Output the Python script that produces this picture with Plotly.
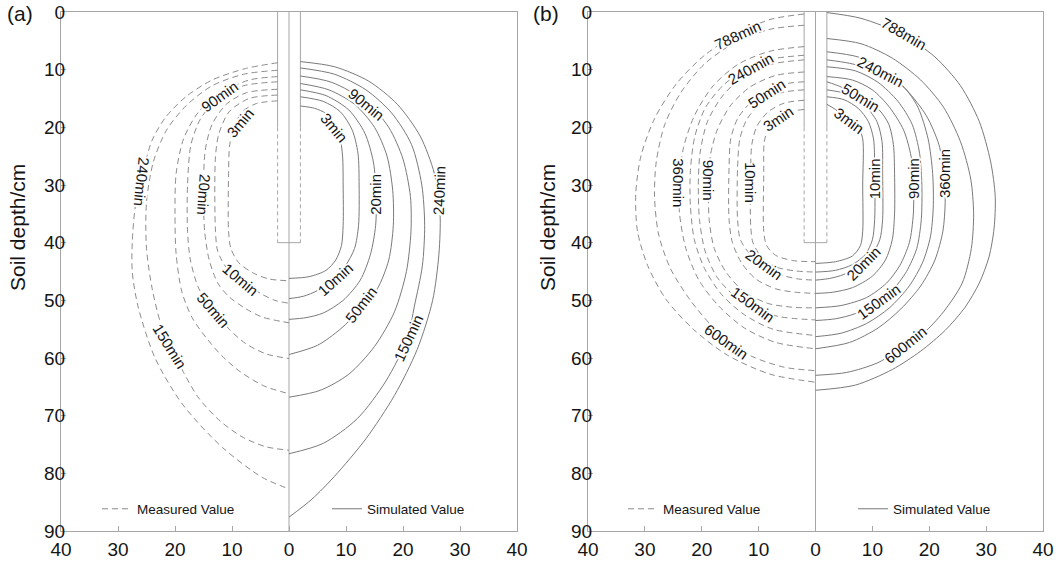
import plotly.graph_objects as go

# ---------------- DATA ----------------
# Each contour: list of (horizontal distance from probe axis [cm], soil depth [cm])
# Panel (a) - simulated (right half)
a_sim_3 = [(2,16.3),(4.5,16.7),(6.5,17.6),(7.9,19.2),(8.9,21.5),(9.4,25),(9.5,30),(9.5,37),(9.2,40.5),(8.2,43),(6.5,44.8),(3.5,45.9),(0,46.2)]
a_sim_10 = [(2,14.7),(6,15.5),(9,17.3),(11.1,20.5),(12.1,24.5),(12.3,30),(12.2,37),(11.5,41),(9.9,44),(7.8,46.3),(5,48.3),(2.5,49.3),(0,49.7)]
a_sim_20 = [(2,13.5),(6.5,14.5),(10.5,17),(13.3,21),(14.8,26),(15.3,31.5),(15.2,37),(14.3,42),(12.5,46.5),(9.5,50),(6,52.2),(3,53),(0,53.3)]
a_sim_50 = [(2,12.4),(7,13.5),(11.5,16),(15,20),(17.2,25),(18.2,31),(18.3,37),(17.5,43),(15.5,48),(12.6,51.5),(9,55),(5,57.8),(0,59.4)]
a_sim_90 = [(2,11.1),(7.5,12.2),(13.5,15.5),(17.5,20),(20,25.5),(21.3,32),(21.4,38),(20.6,45),(18.5,52),(15,58),(10.5,62.8),(5.5,65.6),(0,66.8)]
a_sim_150 = [(2,9.7),(8,10.8),(13.5,13.5),(18,17.5),(21.5,23),(23.3,30),(23.8,37),(23.4,44),(22,51),(20.8,56.5),(17,64),(12,70.5),(6,74.8),(0,76.6)]
a_sim_240 = [(2,8.6),(8,9.5),(14,12),(19,16),(23,21.5),(25.5,28),(26.5,35),(26.3,42),(25.2,50),(22.5,58.5),(18.5,66.5),(13.5,74),(8,80.5),(4,84.5),(0,87.6)]
# Panel (a) - measured (left half)
a_meas_3 = [(-2,15.4),(-5.8,15.9),(-8.2,17.3),(-9.6,19.8),(-10.4,23),(-10.6,28),(-10.6,38),(-10.2,41),(-8.8,43.5),(-6.4,45.2),(-3.5,46.3),(0,46.6)]
a_meas_10 = [(-2,14.4),(-7,15),(-10.5,17.3),(-12.3,21.1),(-12.9,25.1),(-12.9,38),(-12.5,41.5),(-11,44.3),(-8.5,46.4),(-5,48.8),(-2.5,50),(0,50.5)]
a_meas_20 = [(-2,13.4),(-7.5,14),(-11,16),(-13.5,19.5),(-14.7,24),(-15,31.5),(-14.8,38),(-14,43),(-12.5,47),(-10.5,49.4),(-7.5,51.5),(-4.7,52.9),(0,53.9)]
a_meas_50 = [(-2,12.1),(-8,12.8),(-12.5,15),(-15.5,18.5),(-17.2,23),(-17.8,30),(-17.8,38),(-17.3,43),(-15.8,48),(-13.2,51.7),(-10.5,55),(-7.6,57.5),(-4,59.3),(0,60.1)]
a_meas_90 = [(-2,11.2),(-7,11.8),(-12.3,14.2),(-16,17.5),(-18.5,22),(-19.8,28),(-20,35),(-19.8,42),(-18.8,48.5),(-17,53),(-14.6,56.4),(-11.8,59.6),(-8.8,62.2),(-4.5,64.8),(0,66.2)]
a_meas_150 = [(-2,10.1),(-8,10.8),(-13.5,12.8),(-18,16.2),(-21.5,20.5),(-23.8,26),(-25,33),(-25,41),(-24,48),(-22.5,54),(-20.8,57.8),(-18.5,62.5),(-15.8,67),(-12,71),(-8,73.8),(-4,75.4),(0,76)]
a_meas_240 = [(-2,8.8),(-7.6,9.8),(-13.5,11.8),(-18.1,14.7),(-21.6,18.2),(-24,22.2),(-25.7,28),(-27,34),(-27.5,40),(-27.5,45),(-26.5,51),(-23.5,60),(-18.7,68),(-11.7,75.5),(-4.7,80.7),(0,82.7)]

# Panel (b) - simulated (right half)
b_sim_3 = [(2,16.0),(3.5,16.9),(5.9,18.8),(7.6,20.2),(8.3,22),(8.3,30),(8.3,38),(7.9,40.5),(6.5,42.3),(3.5,43.3),(0,43.6)]
b_sim_10 = [(2,14.7),(5,15.2),(7.5,16.7),(9.3,19),(10.2,22),(10.4,26),(10.4,36),(10,39.5),(8.8,42),(6.5,43.8),(3.5,44.8),(0,45.1)]
b_sim_20 = [(2,13.5),(5.5,14.2),(8.5,16),(10.8,19),(11.7,22.5),(11.8,28),(11.8,36),(11.3,39.5),(9.8,42.3),(8,43.8),(5,45.5),(2.5,46.2),(0,46.5)]
b_sim_50 = [(2,12.1),(4.5,13),(7.9,14.9),(11.2,17),(12.9,19.5),(13.7,23),(13.9,28),(13.9,35),(13.5,39.5),(12.3,43),(10,45.8),(6.5,47.8),(3,48.6),(0,48.8)]
b_sim_90 = [(2,11.2),(6.5,11.8),(10,13.5),(13,16.5),(15.5,20.5),(16.8,25),(17.2,29),(17.2,35),(16.5,40),(14.8,44),(12.5,47),(9,49.5),(4.5,50.9),(0,51.3)]
b_sim_150 = [(2,9.5),(7,10.2),(11,12.2),(14.5,15.5),(17,19.5),(18.3,24.5),(18.7,30),(18.6,36),(17.8,41),(16,45),(13.5,48.3),(11,50.3),(7,52.3),(3.5,53.2),(0,53.5)]
b_sim_240 = [(2,8.3),(6,8.9),(11.4,10.4),(15.5,13),(18,16.5),(19.8,22),(20.6,28),(20.7,34),(20.2,39),(18.8,43.5),(16.5,47.5),(13,51.3),(9,54),(4.5,55.7),(0,56.3)]
b_sim_360 = [(2,6.9),(7.5,7.8),(12,10),(16,13.5),(19.5,18),(21.7,23),(22.6,28),(22.8,33),(22.4,38),(21,43),(18.5,47.5),(15,51.5),(11,54.8),(6,57.3),(0,58.4)]
b_sim_600 = [(2,4.6),(8,5.5),(13.5,8),(18.5,11.8),(22.5,16.5),(25.5,22.5),(27.3,29),(27.8,35),(27.4,41),(25.8,47),(22.5,52),(19,55.7),(15.9,57.8),(11,60.8),(5.5,62.5),(0,63)]
b_sim_788 = [(2,0.1),(8,1.1),(15.3,3.9),(21,7.8),(25.5,12.8),(28.8,19),(30.8,26),(31.6,32),(31.4,37.5),(30.5,42.5),(28.8,47),(26.3,51.2),(22.8,55.2),(18.5,58.8),(13.5,62),(7,64.7),(0,65.6)]
# Panel (b) - measured (left half)
b_meas_3 = [(-2,16.9),(-4.5,17.3),(-6.7,18.5),(-8.3,20.3),(-9,22.5),(-9.1,28),(-9.1,38),(-8.6,40.5),(-7,42.2),(-4,43.1),(0,43.3)]
b_meas_10 = [(-2,15.3),(-5.5,15.8),(-8.3,17.3),(-10.3,19.8),(-11.2,23),(-11.4,28),(-11.4,37),(-11,40),(-9.5,42.5),(-7,44.2),(-3.5,44.9),(0,45.1)]
b_meas_20 = [(-2,13.5),(-6,14),(-9.5,15.8),(-12,18.5),(-13.3,22),(-13.7,27),(-13.7,36),(-13.2,39.5),(-11.5,42),(-9.1,44),(-6,45.6),(-3,46.3),(0,46.5)]
b_meas_50 = [(-2,12.1),(-5.5,12.5),(-8.5,13.8),(-11.5,15.8),(-13.7,18.5),(-14.9,22),(-15.2,27),(-15.2,36),(-14.6,40),(-13,43.5),(-10.5,46.3),(-7,48),(-3.5,48.6),(0,48.8)]
b_meas_90 = [(-2,10.4),(-7,11),(-11.5,13),(-15,16.3),(-17.3,20.5),(-18.5,25),(-18.8,30),(-18.7,36),(-17.8,41),(-15.8,45),(-12.8,48.3),(-8.5,50.5),(-4,51.2),(0,51.3)]
b_meas_150 = [(-2,8.3),(-7.5,9),(-12.5,11),(-16.3,14.5),(-19,19),(-20.3,24.5),(-20.6,30),(-20.4,36),(-19.4,41.5),(-17.3,46),(-14.3,49.2),(-10.8,51.3),(-6.5,52.8),(0,53.4)]
b_meas_240 = [(-2,7.5),(-8,8.2),(-11.4,9.5),(-16,12.5),(-19.3,16.5),(-21.2,21.5),(-22,27.5),(-22,33.5),(-21.3,39.5),(-19.5,44.5),(-16.5,49),(-12.5,52.5),(-7.5,55),(0,56.1)]
b_meas_360 = [(-2,6),(-8,6.8),(-13.5,9),(-18,12.8),(-21.3,18),(-23.2,23.5),(-24,29.5),(-23.9,35),(-22.8,41),(-20.5,46.5),(-17,51),(-12.5,54.8),(-7,57.3),(0,58.4)]
b_meas_600 = [(-2,2.3),(-8,3),(-14,5.2),(-19.5,9),(-23.7,14),(-26.5,19.5),(-28,26),(-28.3,32),(-27.6,38.5),(-25.5,44.5),(-22,50),(-18.5,54.2),(-15.8,57),(-11,59.8),(-5.5,61.6),(0,62.2)]
b_meas_788 = [(-2,0.35),(-8,1.3),(-13.8,3.8),(-19.5,7.5),(-24.5,12.5),(-28.3,18.5),(-30.7,25),(-31.6,31.5),(-31.3,38),(-29.5,44),(-26.3,49.8),(-21.5,55),(-15.5,59.5),(-8,62.8),(0,64.2)]

# Probe geometry (cm)
probe_half_width = 2.0
probe_depth = 40
probe_solid_depth = 20
axis_depth = 90

# Axis ticks
x_tick_vals = [-40, -30, -20, -10, 0, 10, 20, 30, 40]
x_tick_text = ["40", "30", "20", "10", "0", "10", "20", "30", "40"]
y_tick_vals = [0, 10, 20, 30, 40, 50, 60, 70, 80, 90]

# Contour labels: (text, x, depth, angle)
a_sim_labels = [("3min", 7.9, 20.0, 50), ("90min", 13.6, 16.0, 39), ("20min", 15.2, 31.6, -90),
                ("240min", 26.3, 30.9, -88), ("10min", 8.1, 46.4, -42), ("50min", 12.7, 50.8, -52),
                ("150min", 20.9, 56.6, -65)]
a_meas_labels = [("90min", -12.2, 14.6, -36), ("3min", -8.5, 19.2, -50), ("240min", -25.8, 29.5, 96),
                 ("20min", -14.9, 31.6, 94), ("10min", -8.5, 46.4, 40), ("50min", -13.2, 51.7, 49),
                 ("150min", -20.9, 58.0, 58)]
b_meas_labels = [("788min", -13.8, 4.0, -25), ("240min", -11.4, 9.8, -29), ("50min", -8.6, 14.1, -33),
                 ("3min", -6.5, 18.5, -34), ("360min", -24.1, 29.6, 90), ("90min", -18.8, 29.2, 90),
                 ("10min", -11.3, 29.5, 90), ("20min", -9.0, 43.7, 36), ("150min", -11.0, 50.8, 36),
                 ("600min", -15.7, 57.1, 35)]
b_sim_labels = [("788min", 15.5, 3.8, 30), ("240min", 11.4, 10.3, 27), ("50min", 7.9, 14.9, 31),
                ("3min", 5.9, 18.8, 37), ("10min", 10.4, 28.9, -90), ("90min", 17.2, 28.9, -90),
                ("360min", 22.6, 28.1, -90), ("20min", 8.4, 43.6, -45), ("150min", 11.1, 50.2, -36),
                ("600min", 15.9, 57.7, -39)]

# ---------------- STYLE ----------------
FONT = "Arial, Liberation Sans, sans-serif"
SIM_COLOR = "#7a7a7a"
MEAS_COLOR = "#8c8c8c"
FRAME_COLOR = "#a6a6a6"
TEXT_COLOR = "#151515"
HALO = ", ".join(f"white {dx}px {dy}px 0px" for dx, dy in
                 [(1,0),(-1,0),(0,1),(0,-1),(1,1),(-1,-1),(1,-1),(-1,1),(2,0),(-2,0),(0,2),(0,-2),(2,1),(-2,-1),(1,2),(-1,-2)])

W, H = 1062, 564
def px_x(px):
    return px / W
def px_y(py):
    return 1 - py / H

fig = go.Figure()

def add_curve(pts, xa, ya, dashed, legend, first):
    xs = [p[0] for p in pts]
    ys = [p[1] for p in pts]
    fig.add_trace(go.Scatter(
        x=xs, y=ys, mode="lines", xaxis=xa, yaxis=ya,
        line=dict(color=MEAS_COLOR if dashed else SIM_COLOR, width=1,
                  dash="6px,4px" if dashed else "solid", shape="spline", smoothing=0.8),
        name="Measured Value" if dashed else "Simulated Value",
        legend=legend, showlegend=first, hoverinfo="skip"))

panels = [
    ("x", "y", [a_meas_3, a_meas_10, a_meas_20, a_meas_50, a_meas_90, a_meas_150, a_meas_240],
     [a_sim_3, a_sim_10, a_sim_20, a_sim_50, a_sim_90, a_sim_150, a_sim_240], "legend", "legend2"),
    ("x2", "y2", [b_meas_3, b_meas_10, b_meas_20, b_meas_50, b_meas_90, b_meas_150, b_meas_240, b_meas_360, b_meas_600, b_meas_788],
     [b_sim_3, b_sim_10, b_sim_20, b_sim_50, b_sim_90, b_sim_150, b_sim_240, b_sim_360, b_sim_600, b_sim_788], "legend3", "legend4"),
]

for xa, ya, meas, sim, lg_m, lg_s in panels:
    # probe axis line
    fig.add_trace(go.Scatter(x=[0, 0], y=[0, axis_depth], mode="lines", xaxis=xa, yaxis=ya,
                             line=dict(color=FRAME_COLOR, width=1), showlegend=False, hoverinfo="skip"))
    for s in (-1, 1):
        fig.add_trace(go.Scatter(x=[s*probe_half_width]*2, y=[0, probe_solid_depth], mode="lines",
                                 xaxis=xa, yaxis=ya, line=dict(color=FRAME_COLOR, width=1),
                                 showlegend=False, hoverinfo="skip"))
        fig.add_trace(go.Scatter(x=[s*probe_half_width]*2, y=[probe_solid_depth, probe_depth], mode="lines",
                                 xaxis=xa, yaxis=ya, line=dict(color=FRAME_COLOR, width=1, dash="4px,3px"),
                                 showlegend=False, hoverinfo="skip"))
    fig.add_trace(go.Scatter(x=[-probe_half_width, probe_half_width], y=[probe_depth]*2, mode="lines",
                             xaxis=xa, yaxis=ya, line=dict(color=FRAME_COLOR, width=1),
                             showlegend=False, hoverinfo="skip"))
    for i, c in enumerate(meas):
        add_curve(c, xa, ya, True, lg_m, i == 0)
    for i, c in enumerate(sim):
        add_curve(c, xa, ya, False, lg_s, i == 0)

annotations = []
for labels, xr, yr in [(a_sim_labels, "x", "y"), (a_meas_labels, "x", "y"),
                       (b_sim_labels, "x2", "y2"), (b_meas_labels, "x2", "y2")]:
    for t, x, d, ang in labels:
        annotations.append(dict(text=t, x=x, y=d, xref=xr, yref=yr, showarrow=False,
                                textangle=ang, xanchor="center", yanchor="middle",
                                font=dict(family=FONT, size=15, color=TEXT_COLOR, shadow=HALO)))

for txt, px, py, ang, size in [("(a)", 20, 13, 0, 21), ("(b)", 546, 13, 0, 21),
                               ("Soil depth/cm", 17, 228, -90, 21), ("Soil depth/cm", 547, 228, -90, 21)]:
    annotations.append(dict(text=txt, x=px_x(px), y=px_y(py), xref="paper", yref="paper", showarrow=False,
                            textangle=ang, xanchor="center", yanchor="middle",
                            font=dict(family=FONT, size=size, color=TEXT_COLOR)))

xcommon = dict(range=[-40, 40], tickvals=x_tick_vals, ticktext=x_tick_text, ticks="inside", ticklen=5,
               tickcolor=FRAME_COLOR, showline=True, linecolor=FRAME_COLOR, linewidth=1, mirror=True,
               showgrid=False, zeroline=False, automargin=False, fixedrange=True,
               tickfont=dict(family=FONT, size=19, color=TEXT_COLOR), ticklabelstandoff=1)
ycommon = dict(range=[90, 0], tickvals=y_tick_vals, ticks="inside", ticklen=5,
               tickcolor=FRAME_COLOR, showline=True, linecolor=FRAME_COLOR, linewidth=1, mirror=True,
               showgrid=False, zeroline=False, automargin=False, fixedrange=True,
               tickfont=dict(family=FONT, size=19, color=TEXT_COLOR), ticklabelstandoff=-9,
               domain=[px_y(531), px_y(12)])

def leg(px):
    return dict(x=px_x(px), y=px_y(509), xanchor="left", yanchor="middle", bgcolor="rgba(0,0,0,0)",
                borderwidth=0, itemwidth=30, font=dict(family=FONT, size=13.5, color=TEXT_COLOR))

fig.update_layout(
    width=W, height=H, template="none",
    margin=dict(l=0, r=0, t=0, b=0),
    paper_bgcolor="white", plot_bgcolor="white",
    xaxis=dict(xcommon, domain=[px_x(61), px_x(517)], anchor="y"),
    yaxis=dict(ycommon, anchor="x"),
    xaxis2=dict(xcommon, domain=[px_x(588), px_x(1043)], anchor="y2"),
    yaxis2=dict(ycommon, anchor="x2"),
    legend=leg(97), legend2=leg(327), legend3=leg(623), legend4=leg(853),
    annotations=annotations,
)

# remove the default page margin so the figure sits at the window's top-left corner
fig.write_html("out.html", config={"displayModeBar": False},
               post_script="document.body.style.margin='0px'; document.body.style.overflow='hidden';")
